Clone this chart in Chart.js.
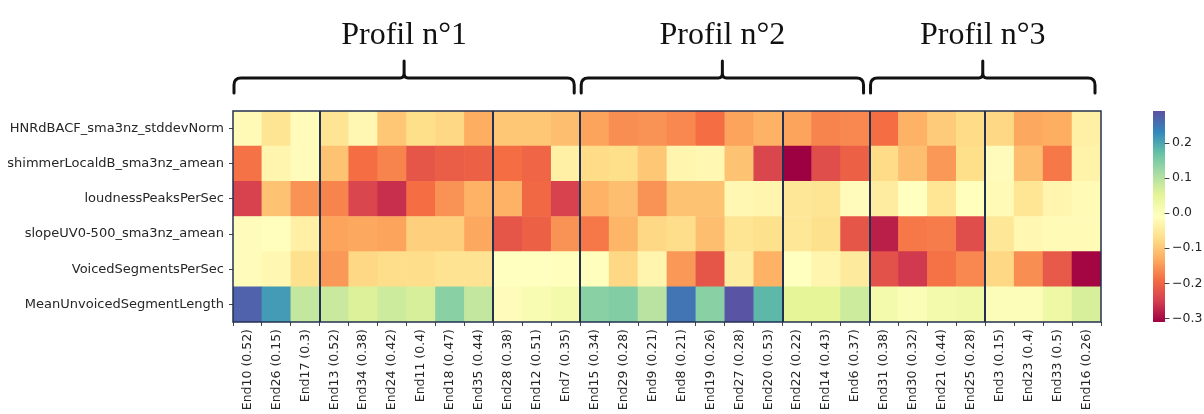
<!DOCTYPE html>
<html>
<head>
<meta charset="utf-8">
<script src="https://cdn.jsdelivr.net/npm/chart.js@4.4.1/dist/chart.umd.min.js"></script>
<style>
    html, body { margin: 0; padding: 0; background: #fff; }
    #wrap { width: 1204px; height: 414px; }
</style>
</head>
<body>
<div id="wrap"><canvas id="grafica"></canvas></div>
<script>

// column labels (speaker + score), left to right
const colLabels = [
    'End10 (0.52)', 'End26 (0.15)', 'End17 (0.3)',
    'End13 (0.52)', 'End34 (0.38)', 'End24 (0.42)', 'End11 (0.4)', 'End18 (0.47)', 'End35 (0.44)',
    'End28 (0.38)', 'End12 (0.51)', 'End7 (0.35)',
    'End15 (0.34)', 'End29 (0.28)', 'End9 (0.21)', 'End8 (0.21)', 'End19 (0.26)', 'End27 (0.28)', 'End20 (0.53)',
    'End22 (0.22)', 'End14 (0.43)', 'End6 (0.37)',
    'End31 (0.38)', 'End30 (0.32)', 'End21 (0.44)', 'End25 (0.28)',
    'End3 (0.15)', 'End23 (0.4)', 'End33 (0.5)', 'End16 (0.26)'
]

// row labels, top to bottom
const rowLabels = [
    'HNRdBACF_sma3nz_stddevNorm',
    'shimmerLocaldB_sma3nz_amean',
    'loudnessPeaksPerSec',
    'slopeUV0-500_sma3nz_amean',
    'VoicedSegmentsPerSec',
    'MeanUnvoicedSegmentLength'
]

const hnrValues = [-0.02, -0.06, -0.015, -0.06, -0.025, -0.10, -0.07, -0.08, -0.13, -0.10, -0.10, -0.11,
    -0.14, -0.16, -0.155, -0.165, -0.19, -0.14, -0.125, -0.14, -0.17, -0.165,
    -0.19, -0.125, -0.095, -0.075, -0.08, -0.135, -0.13, -0.04]
const shimmerValues = [-0.185, -0.03, -0.015, -0.105, -0.19, -0.17, -0.22, -0.21, -0.205, -0.19, -0.20, -0.04,
    -0.075, -0.07, -0.10, -0.03, -0.025, -0.105, -0.24, -0.31, -0.23, -0.205,
    -0.075, -0.11, -0.15, -0.07, -0.015, -0.11, -0.18, -0.035]
const loudnessValues = [-0.245, -0.105, -0.155, -0.17, -0.24, -0.265, -0.19, -0.155, -0.125, -0.125, -0.195, -0.245,
    -0.125, -0.11, -0.155, -0.105, -0.105, -0.025, -0.03, -0.055, -0.06, -0.015,
    -0.045, -0.01, -0.058, -0.012, -0.02, -0.058, -0.03, -0.02]
const slopeValues = [-0.015, -0.012, -0.04, -0.14, -0.135, -0.14, -0.09, -0.09, -0.135, -0.22, -0.205, -0.155,
    -0.18, -0.12, -0.08, -0.072, -0.11, -0.06, -0.068, -0.055, -0.068, -0.22,
    -0.28, -0.18, -0.175, -0.23, -0.055, -0.025, -0.02, -0.02]
const voicedValues = [-0.015, -0.025, -0.068, -0.15, -0.08, -0.072, -0.072, -0.062, -0.062, -0.01, -0.01, -0.012,
    -0.012, -0.08, -0.03, -0.15, -0.22, -0.045, -0.125, -0.01, -0.03, -0.05,
    -0.225, -0.255, -0.185, -0.165, -0.08, -0.16, -0.215, -0.305]
const unvoicedValues = [0.27, 0.21, 0.085, 0.08, 0.06, 0.075, 0.065, 0.14, 0.085, -0.015, 0.01, 0.02,
    0.14, 0.145, 0.095, 0.25, 0.14, 0.285, 0.18, 0.05, 0.05, 0.075,
    0.02, 0.005, 0.02, 0.025, 0.0, 0.0, 0.03, 0.065]

// bottom to top, same order as the stack
const rowValues = [unvoicedValues, voicedValues, slopeValues, loudnessValues, shimmerValues, hnrValues]

// clusters (number of columns each) and how many clusters per profile
const clusterSizes = [3, 6, 3, 7, 3, 4, 4]
const profilNames = ['Profil n°1', 'Profil n°2', 'Profil n°3']
const profilClusters = [3, 2, 2]

const colorbarTicks = [-0.3, -0.2, -0.1, 0.0, 0.1, 0.2]
const vMin = -0.31
const vMax = 0.29

// matplotlib Spectral
const spectral = [
    [158, 1, 66], [213, 62, 79], [244, 109, 67], [253, 174, 97], [254, 224, 139], [255, 255, 191],
    [230, 245, 152], [171, 221, 164], [102, 194, 165], [50, 136, 189], [94, 79, 162]
]

const colorFor = (v) => {
    let t = (v - vMin) / (vMax - vMin)
    t = Math.max(0, Math.min(1, t)) * (spectral.length - 1)
    let i = Math.min(Math.floor(t), spectral.length - 2)
    let f = t - i
    let a = spectral[i], b = spectral[i + 1]
    let c = a.map((x, k) => Math.round(x + (b[k] - x) * f))
    return `rgb(${c[0]}, ${c[1]}, ${c[2]})`
}

const lineColor = '#233150'

const heatmapDecor = {
    id: 'heatmapDecor',
    afterDatasetsDraw(chart) {
        const ctx = chart.ctx
        const area = chart.chartArea
        const x = chart.scales.x
        const half = (x.getPixelForValue(1) - x.getPixelForValue(0)) / 2
        const edge = (i) => x.getPixelForValue(i) - half

        ctx.save()
        // cluster separators
        ctx.strokeStyle = lineColor
        ctx.lineWidth = 2
        let col = 0
        clusterSizes.slice(0, -1).forEach(n => {
            col += n
            let px = Math.round(edge(col))
            ctx.beginPath()
            ctx.moveTo(px, area.top)
            ctx.lineTo(px, area.bottom)
            ctx.stroke()
        })
        // frame
        ctx.lineWidth = 1.5
        ctx.strokeRect(area.left, area.top, area.right - area.left, area.bottom - area.top)
        ctx.restore()
    },
    afterDraw(chart) {
        const ctx = chart.ctx
        const x = chart.scales.x
        const half = (x.getPixelForValue(1) - x.getPixelForValue(0)) / 2
        const edge = (i) => x.getPixelForValue(i) - half

        // braces + profile titles
        ctx.save()
        ctx.strokeStyle = '#111'
        ctx.lineWidth = 3
        ctx.lineCap = 'round'
        ctx.lineJoin = 'round'
        let c = 0, col = 0
        profilNames.forEach((name, p) => {
            let start = col
            for (let k = 0; k < profilClusters[p]; k++) col += clusterSizes[c++]
            let xl = edge(start) + 1
            let xr = edge(col) - 6
            let mid = (xl + xr) / 2
            let yb = 78, yEnd = 93, yTip = 61, r = 7
            ctx.beginPath()
            ctx.moveTo(xl, yEnd)
            ctx.lineTo(xl, yb + r)
            ctx.quadraticCurveTo(xl, yb, xl + r, yb)
            ctx.lineTo(mid - 4, yb)
            ctx.quadraticCurveTo(mid, yb, mid, yb - 5)
            ctx.lineTo(mid, yTip)
            ctx.moveTo(mid, yb - 5)
            ctx.quadraticCurveTo(mid, yb, mid + 4, yb)
            ctx.lineTo(xr - r, yb)
            ctx.quadraticCurveTo(xr, yb, xr, yb + r)
            ctx.lineTo(xr, yEnd)
            ctx.stroke()

            ctx.fillStyle = '#111'
            ctx.font = '32px "Liberation Serif", serif'
            ctx.textAlign = 'center'
            ctx.textBaseline = 'alphabetic'
            ctx.fillText(name, mid, 44)
        })

        // colorbar
        const cb = chart.scales.cbar
        const top = cb.getPixelForValue(vMax)
        const bottom = cb.getPixelForValue(vMin)
        const bx = 1153, bw = 12
        const grad = ctx.createLinearGradient(0, bottom, 0, top)
        spectral.forEach((s, i) => grad.addColorStop(i / (spectral.length - 1), `rgb(${s[0]}, ${s[1]}, ${s[2]})`))
        ctx.fillStyle = grad
        ctx.fillRect(bx, top, bw, bottom - top)
        ctx.strokeStyle = '#444'
        ctx.lineWidth = 1
        colorbarTicks.forEach(v => {
            let py = Math.round(cb.getPixelForValue(v)) + 0.5
            ctx.beginPath()
            ctx.moveTo(bx + bw, py)
            ctx.lineTo(bx + bw + 4, py)
            ctx.stroke()
        })
        ctx.restore()
    }
}

const tickFont = { family: '"DejaVu Sans", sans-serif', size: 12.5 }
const rowFont = { family: '"DejaVu Sans", sans-serif', size: 13 }

const renderHeatmap = () => {

    const data = {
        labels: colLabels,
        datasets: rowValues.map((vals, r) => ({
            label: rowLabels[rowLabels.length - 1 - r],
            data: vals.map(() => 1),
            backgroundColor: vals.map(colorFor),
            borderWidth: 0,
            barPercentage: 1,
            categoryPercentage: 1
        }))
    }

    new Chart('grafica', {
        type: 'bar',
        data: data,
        options: {
            responsive: true,
            maintainAspectRatio: false,
            animation: false,
            events: [],
            layout: { padding: { top: 111, right: 0, bottom: 0, left: 0 } },
            plugins: {
                legend: { display: false },
                tooltip: { enabled: false }
            },
            scales: {
                x: {
                    stacked: true,
                    grid: { drawOnChartArea: false, tickLength: 4, color: '#444' },
                    border: { display: false },
                    ticks: {
                        autoSkip: false, maxRotation: 90, minRotation: 90,
                        font: tickFont, color: '#262626', padding: 3
                    },
                    afterFit: (s) => { s.height = 92 }
                },
                y: {
                    stacked: true,
                    min: 0,
                    max: rowLabels.length,
                    grid: { drawOnChartArea: false, tickLength: 4, color: '#444' },
                    border: { display: false },
                    afterBuildTicks: (s) => {
                        s.ticks = rowLabels.map((l, i) => ({ value: i + 0.5 }))
                    },
                    ticks: {
                        font: rowFont, color: '#262626', padding: 5,
                        callback: (v) => rowLabels[rowLabels.length - 1 - Math.floor(v)]
                    },
                    afterFit: (s) => { s.width = 233 }
                },
                cbar: {
                    type: 'linear',
                    position: 'right',
                    min: vMin,
                    max: vMax,
                    grid: { drawOnChartArea: false, drawTicks: false },
                    border: { display: false },
                    afterBuildTicks: (s) => {
                        s.ticks = colorbarTicks.map(v => ({ value: v }))
                    },
                    ticks: {
                        font: tickFont, color: '#262626', padding: 71,
                        callback: (v) => v.toFixed(1).replace('-', '\u2212')
                    },
                    afterFit: (s) => { s.width = 103 }
                }
            }
        },
        plugins: [heatmapDecor]
    })
}

renderHeatmap()

</script>
</body>
</html>
